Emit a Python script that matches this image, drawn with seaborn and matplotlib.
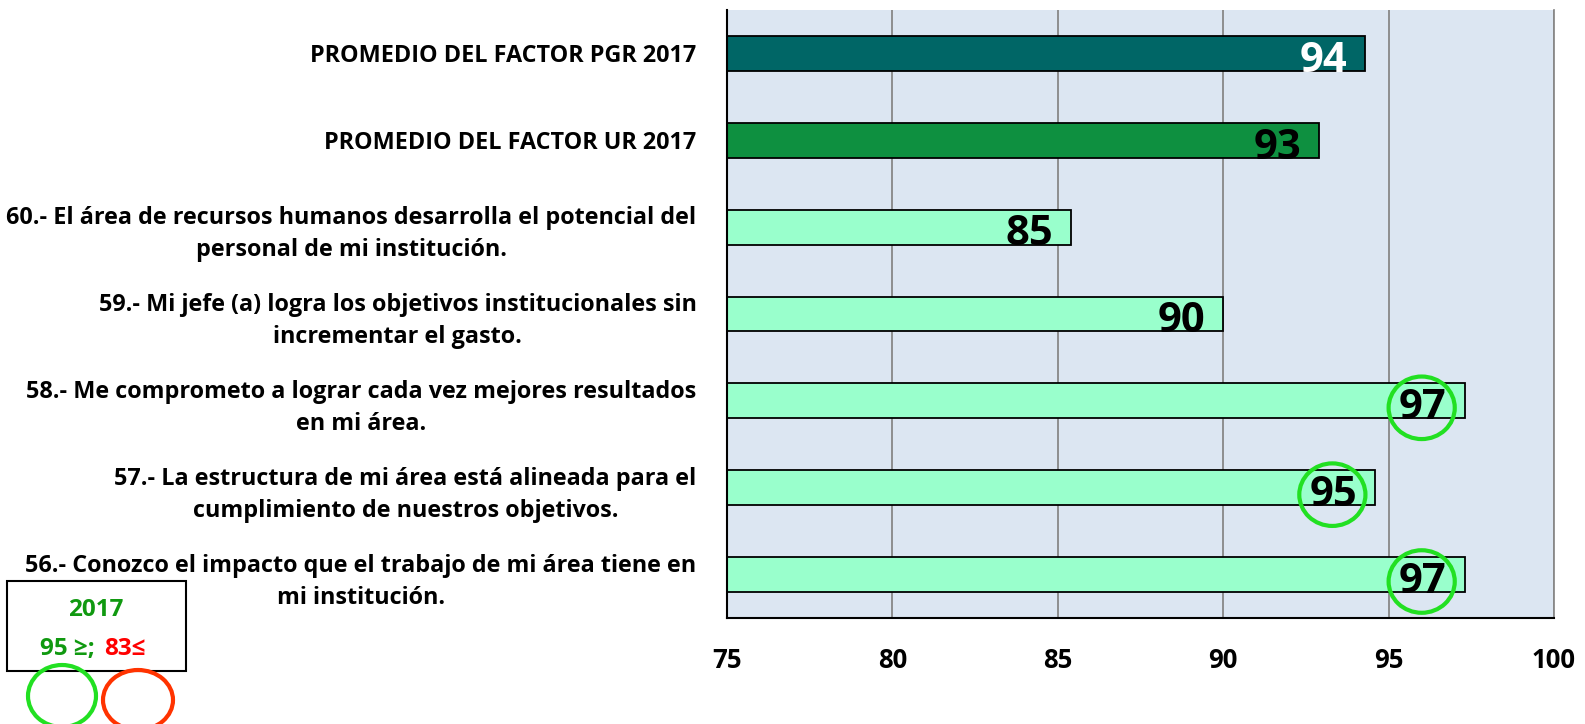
# barras horizontales del factor 2017 con etiquetas de valor

import pandas as pd
import seaborn as sns
import matplotlib.pyplot as plt
from matplotlib.patches import Ellipse, Rectangle

W, H = 1585, 724

preguntas = [
    "PROMEDIO DEL FACTOR PGR 2017",
    "PROMEDIO DEL FACTOR UR 2017",
    "60.- El área de recursos humanos desarrolla el potencial del\npersonal de mi institución.",
    "59.- Mi jefe (a) logra los objetivos institucionales sin\nincrementar el gasto.",
    "58.- Me comprometo a lograr cada vez mejores resultados\nen mi área.",
    "57.- La estructura de mi área está alineada para el\ncumplimiento de nuestros objetivos.",
    "56.- Conozco el impacto que el trabajo de mi área tiene en\nmi institución.",
]
valores = [94.3, 92.9, 85.4, 90.0, 97.3, 94.6, 97.3]
colores = ["#006666", "#0E9040", "#99FFCC", "#99FFCC", "#99FFCC", "#99FFCC", "#99FFCC"]
color_texto = ["white", "black", "black", "black", "black", "black", "black"]
ticks_x = [75, 80, 85, 90, 95, 100]

sns.set_theme(style="white")
plt.rcParams["font.family"] = ["Open Sans", "DejaVu Sans"]
plt.rcParams["text.color"] = "black"
plt.rcParams["xtick.color"] = "black"
plt.rcParams["ytick.color"] = "black"

df = pd.DataFrame({"pregunta": preguntas, "valor": valores})

fig = plt.figure(figsize=(W / 100, H / 100), dpi=100)
ax = fig.add_axes([727 / W, 1 - 618 / H, (1554 - 727) / W, (618 - 10) / H])
ax.set_facecolor("#DCE6F2")

sns.barplot(data=df, x="valor", y="pregunta", hue="pregunta", palette=colores,
            legend=False, orient="h", width=0.4, saturation=1,
            edgecolor="black", linewidth=1.3, ax=ax)

ax.set_xlim(75, 100)
ax.set_xticks(ticks_x)
ax.xaxis.grid(True, color="#878787", lw=1.3)
ax.yaxis.grid(False)
ax.set_axisbelow(True)
ax.set_xlabel("")
ax.set_ylabel("")

ax.spines["top"].set_visible(False)
ax.spines["right"].set_color("#878787")
ax.spines["left"].set_color("black")
ax.spines["bottom"].set_color("black")
ax.spines["left"].set_linewidth(1.5)
ax.spines["bottom"].set_linewidth(1.5)

ax.tick_params(axis="x", labelsize=18.5, pad=21, length=0, labelcolor="black")
ax.tick_params(axis="y", labelsize=16.8, pad=22, length=0, labelcolor="black")
for t in ax.get_xticklabels():
    t.set_fontweight("bold")
for t in ax.get_yticklabels():
    t.set_fontweight("bold")
    t.set_multialignment("center")
    t.set_linespacing(1.45)

# etiquetas de valor dentro de la barra
for i, v in enumerate(valores):
    ax.text(v - 0.55, i + 0.21, f"{round(v)}", ha="right", va="baseline",
            fontsize=30, fontweight="bold", color=color_texto[i])
    if round(v) >= 95 and i >= 2:
        ax.add_patch(Ellipse((v - 1.3, i + 0.08), 2.0, 0.72, fill=False,
                             edgecolor="#22E022", lw=3, clip_on=False))

# recuadro de referencia
fig.add_artist(Rectangle((7 / W, 1 - 671 / H), 179 / W, 90 / H, transform=fig.transFigure,
                         fill=False, edgecolor="black", lw=1.5))
fig.text(96 / W, 1 - 610 / H, "2017", ha="center", va="center", color="#109910",
         fontsize=17.5, fontweight="bold")
fig.text(101 / W, 1 - 649 / H, "95 ≥; ", ha="right", va="center", color="#109910",
         fontsize=17.5, fontweight="bold")
fig.text(104 / W, 1 - 649 / H, "83≤", ha="left", va="center", color="#FF0000",
         fontsize=17.5, fontweight="bold")
fig.add_artist(Ellipse((62 / W, 1 - 696 / H), 68 / W, 62 / H, transform=fig.transFigure,
                       fill=False, edgecolor="#22E022", lw=3))
fig.add_artist(Ellipse((138 / W, 1 - 700 / H), 70 / W, 60 / H, transform=fig.transFigure,
                       fill=False, edgecolor="#FF3300", lw=3))

plt.savefig("out.png", dpi=100)
